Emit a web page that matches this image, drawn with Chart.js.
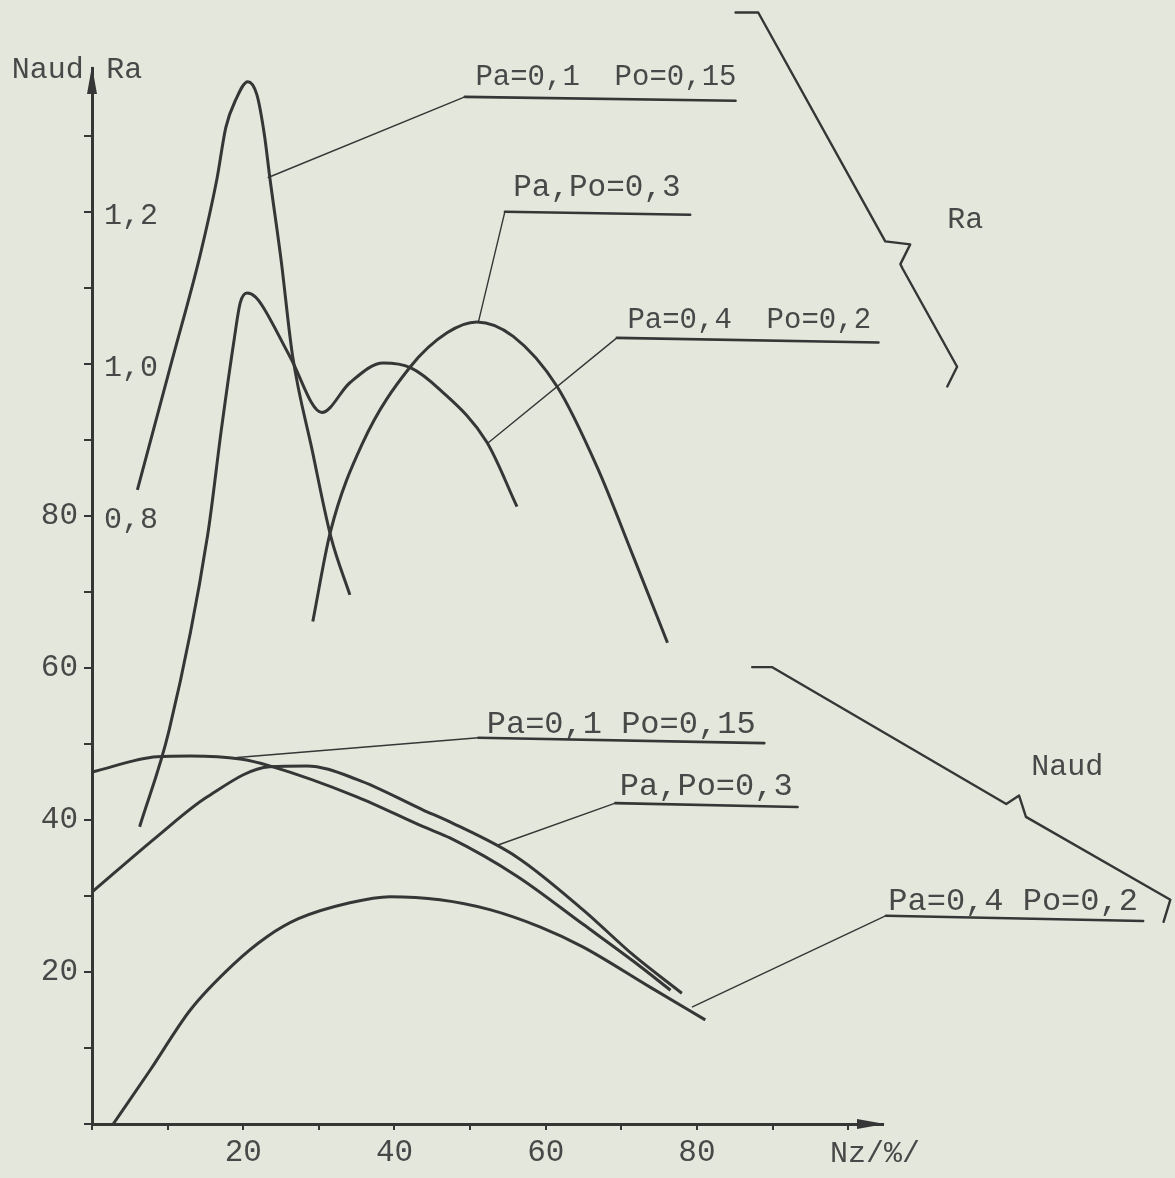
<!DOCTYPE html>
<html>
<head>
<meta charset="utf-8">
<script src="https://cdn.jsdelivr.net/npm/chart.js@4.4.1/dist/chart.umd.min.js"></script>
<style>
  html, body { margin: 0; padding: 0; background: #e3e7dc; }
  canvas { display: block; }
</style>
</head>
<body>
<canvas id="nzChart" width="1175" height="1178"></canvas>
<script>
// Nz /%/ on x, Ra curves (upper group) and Naud curves (lower group)
const raP1x = [6, 10.6, 14.3, 16.5, 17.7, 19.0, 20.6, 21.8, 22.8, 23.5, 25.0, 26.5, 29.1, 31.6, 34.1];
const raP1y = [0.834, 1.005, 1.143, 1.242, 1.311, 1.347, 1.371, 1.354, 1.301, 1.246, 1.137, 1.012, 0.887, 0.772, 0.696];

const raP3x = [29.2, 31.5, 35.8, 42.1, 47.0, 50.9, 55.7, 61.5, 66.8, 71.6, 76.1];
const raP3y = [0.661, 0.778, 0.896, 0.996, 1.041, 1.055, 1.036, 0.970, 0.864, 0.746, 0.633];

const raP4x = [6.3, 10.2, 15.3, 17.1, 18.8, 19.6, 20.5, 21.6, 22.6, 26.2, 30.4, 34.1, 38.5, 42.1, 46.0, 52.2, 56.2];
const raP4y = [0.391, 0.518, 0.775, 0.913, 1.032, 1.080, 1.093, 1.088, 1.075, 1.009, 0.936, 0.975, 1.001, 0.995, 0.966, 0.897, 0.812];

const naudP1x = [0, 8.6, 13.0, 19.6, 23.5, 35.1, 43.8, 47.4, 56.2, 64.9, 71.6, 76.5];
const naudP1y = [46.3, 48.3, 48.4, 48.0, 47.1, 43.0, 39.1, 37.6, 32.6, 26.3, 21.4, 17.6];

const naudP3x = [0, 8.6, 15.2, 23.5, 28.4, 35.1, 43.8, 47.4, 56.2, 64.9, 71.6, 78.0];
const naudP3y = [30.5, 37.8, 43.0, 47.0, 47.1, 45.3, 41.3, 39.7, 35.1, 28.2, 22.2, 17.2];

const naudP4x = [2.8, 7.7, 13.0, 18.7, 23.1, 27.3, 34.1, 39.4, 46.0, 52.6, 59.3, 64.9, 73.8, 81.1];
const naudP4y = [0, 7.1, 15.0, 21.0, 24.6, 27.0, 29.1, 29.9, 29.5, 28.2, 25.9, 23.3, 18.0, 13.7];

const nzTicks = [20, 40, 60, 80];
const naudTicks = [20, 40, 60, 80];
const raTicks = [0.8, 1.0, 1.2];
const raTickLabels = ['0,8', '1,0', '1,2'];

const ink = '#363636';
const typeInk = '#484848';
const typeFont = '"Liberation Mono", "DejaVu Sans Mono", monospace';

const toPoints = (xs, ys) => xs.map((x, i) => ({ x, y: ys[i] }));

const curve = (label, xs, ys, axis) => ({
  label,
  data: toPoints(xs, ys),
  yAxisID: axis,
  borderColor: ink,
  borderWidth: 3,
  pointRadius: 0,
  fill: false,
  cubicInterpolationMode: 'monotone'
});

// callouts and braces, placed in axis units (y in Naud units)
const callouts = [
  { text: 'Pa=0,1  Po=0,15', size: 29, at: [50.7, 136.6], leader: [23.3, 124.5], under: [[49.3, 135.1], [85.1, 134.6]] },
  { text: 'Pa,Po=0,3', size: 31, at: [55.7, 122.0], leader: [51.1, 105.5], under: [[54.6, 120.0], [79.1, 119.6]] },
  { text: 'Pa=0,4  Po=0,2', size: 29, at: [70.8, 104.7], leader: [52.4, 89.6], under: [[69.4, 103.4], [104.0, 102.8]] },
  { text: 'Pa=0,1 Po=0,15', size: 32, at: [52.2, 51.4], leader: [19.2, 48.2], under: [[51.1, 50.8], [88.9, 50.1]] },
  { text: 'Pa,Po=0,3', size: 32, at: [69.8, 43.3], leader: [53.7, 36.7], under: [[69.2, 42.2], [93.3, 41.7]] },
  { text: 'Pa=0,4 Po=0,2', size: 32, at: [105.3, 28.2], leader: [79.4, 15.4], under: [[105.0, 27.4], [139.0, 26.7]] }
];

const braces = [
  { text: 'Ra', at: [113.1, 117.9],
    path: [[85.1, 146.2], [88.1, 146.2], [104.9, 116.1], [108.2, 115.7], [106.9, 113.1], [107.2, 112.5], [114.4, 99.6], [113.1, 97.0]] },
  { text: 'Naud', at: [124.2, 45.9],
    path: [[87.3, 60.1], [89.9, 60.1], [120.9, 42.1], [122.6, 43.2], [123.5, 40.4], [142.6, 29.5], [141.7, 26.6]] }
];

const axisTitles = [
  { text: 'Naud', at: [-10.6, 137.6] },
  { text: 'Ra', at: [1.9, 137.6] },
  { text: 'Nz/%/', at: [97.6, -5.0] }
];

const sketchPlugin = {
  id: 'sketch',
  beforeDraw(chart) {
    const { ctx } = chart;
    ctx.save();
    ctx.fillStyle = '#e3e7dc';
    ctx.fillRect(0, 0, chart.width, chart.height);
    ctx.restore();
  },
  afterDraw(chart) {
    const { ctx } = chart;
    const xs = chart.scales.x, ys = chart.scales.y, rs = chart.scales.yRa;
    const px = v => xs.getPixelForValue(v);
    const py = v => ys.getPixelForValue(v);
    const area = chart.chartArea;

    ctx.save();
    ctx.fillStyle = ink;
    // arrow heads
    ctx.beginPath();
    ctx.moveTo(area.left, area.top - 2);
    ctx.lineTo(area.left - 5, area.top + 26);
    ctx.lineTo(area.left + 5, area.top + 26);
    ctx.closePath();
    ctx.fill();
    ctx.beginPath();
    ctx.moveTo(area.right + 2, area.bottom);
    ctx.lineTo(area.right - 26, area.bottom - 5);
    ctx.lineTo(area.right - 26, area.bottom + 5);
    ctx.closePath();
    ctx.fill();

    ctx.font = '30px ' + typeFont;
    ctx.fillStyle = typeInk;
    ctx.textAlign = 'left';

    // Ra tick labels, to the right of the axis
    ctx.textBaseline = 'middle';
    raTicks.forEach((v, i) => {
      ctx.fillText(raTickLabels[i], px(1.6), rs.getPixelForValue(v) + 4);
    });
    ctx.textBaseline = 'alphabetic';

    axisTitles.forEach(t => ctx.fillText(t.text, px(t.at[0]), py(t.at[1])));

    ctx.strokeStyle = ink;
    ctx.lineCap = 'round';
    ctx.lineJoin = 'round';

    callouts.forEach(c => {
      ctx.font = c.size + 'px ' + typeFont;
      ctx.fillText(c.text, px(c.at[0]), py(c.at[1]));
      ctx.lineWidth = 1.4;
      ctx.beginPath();
      ctx.moveTo(px(c.leader[0]), py(c.leader[1]));
      ctx.lineTo(px(c.under[0][0]), py(c.under[0][1]));
      ctx.stroke();
      ctx.lineWidth = 2.6;
      ctx.beginPath();
      ctx.moveTo(px(c.under[0][0]), py(c.under[0][1]));
      ctx.lineTo(px(c.under[1][0]), py(c.under[1][1]));
      ctx.stroke();
    });

    ctx.font = '30px ' + typeFont;
    braces.forEach(b => {
      ctx.fillText(b.text, px(b.at[0]), py(b.at[1]));
      ctx.lineWidth = 2.4;
      ctx.beginPath();
      b.path.forEach(([x, y], i) => {
        if (i === 0) ctx.moveTo(px(x), py(y));
        else ctx.lineTo(px(x), py(y));
      });
      ctx.stroke();
    });
    ctx.restore();
  }
};

new Chart(document.getElementById('nzChart'), {
  type: 'line',
  data: {
    datasets: [
      curve('Ra Pa=0,1 Po=0,15', raP1x, raP1y, 'yRa'),
      curve('Ra Pa,Po=0,3', raP3x, raP3y, 'yRa'),
      curve('Ra Pa=0,4 Po=0,2', raP4x, raP4y, 'yRa'),
      curve('Naud Pa=0,1 Po=0,15', naudP1x, naudP1y, 'y'),
      curve('Naud Pa,Po=0,3', naudP3x, naudP3y, 'y'),
      curve('Naud Pa=0,4 Po=0,2', naudP4x, naudP4y, 'y')
    ]
  },
  options: {
    responsive: false,
    animation: false,
    devicePixelRatio: 1,
    layout: { padding: { top: 68, right: 292, left: 0, bottom: 0 } },
    plugins: {
      legend: { display: false },
      tooltip: { enabled: false }
    },
    scales: {
      x: {
        type: 'linear',
        min: 0,
        max: 104.6,
        afterFit: s => { s.height = 54; },
        border: { display: true, color: ink, width: 3 },
        grid: { display: true, drawOnChartArea: false, drawTicks: true, tickLength: 6, color: ink, lineWidth: 2 },
        ticks: {
          stepSize: 10,
          includeBounds: false,
          maxRotation: 0,
          autoSkip: false,
          padding: 4,
          color: typeInk,
          font: { family: typeFont, size: 31 },
          callback: v => nzTicks.includes(v) ? String(v) : ''
        }
      },
      y: {
        type: 'linear',
        position: 'left',
        min: 0,
        max: 138.9,
        afterFit: s => { s.width = 92; },
        border: { display: true, color: ink, width: 3 },
        grid: { display: true, drawOnChartArea: false, drawTicks: true, tickLength: 8, color: ink, lineWidth: 2 },
        ticks: {
          stepSize: 10,
          includeBounds: false,
          autoSkip: false,
          padding: 6,
          color: typeInk,
          font: { family: typeFont, size: 31 },
          callback: v => naudTicks.includes(v) ? String(v) : ''
        }
      },
      yRa: {
        type: 'linear',
        position: 'left',
        display: false,
        min: 0,
        max: 1.389
      }
    }
  },
  plugins: [sketchPlugin]
});
</script>
</body>
</html>
